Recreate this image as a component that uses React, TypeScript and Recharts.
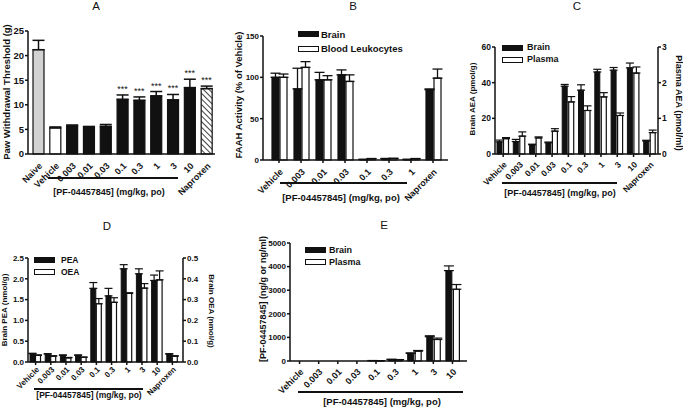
import React from 'react'
import { BarChart, ComposedChart, Bar, Line, XAxis, YAxis, ErrorBar, Cell, LabelList, Legend } from 'recharts'

const FONT = '"Liberation Sans", Arial, Helvetica, sans-serif'
const INK = '#111111'

// ─── Panel A: paw withdrawal threshold ─────────────────────────────────────
const aCats = ['Naive', 'Vehicle', '0.003', '0.01', '0.03', '0.1', '0.3', '1', '3', '10', 'Naproxen']
const aMean = [21.2, 5.3, 5.7, 5.5, 5.6, 11.1, 10.9, 11.8, 11.0, 13.5, 13.3]
const aSem = [1.9, 0.2, 0.2, 0.1, 0.4, 0.9, 0.7, 0.9, 1.1, 1.7, 0.5]
const aSig = ['', '', '', '', '', '***', '***', '***', '***', '***', '***']

// ─── Panel B: FAAH activity ────────────────────────────────────────────────
const bCats = ['Vehicle', '0.003', '0.01', '0.03', '0.1', '0.3', '1', 'Naproxen']
const bBrain = [100, 86, 97, 103, 0.6, 1.5, 0.6, 85]
const bBrainSem = [5, 25, 9, 6, 0.2, 0.4, 0.2, 1]
const bLeuk = [100, 112, 97, 95, 1.5, 1.8, 1.5, 99]
const bLeukSem = [4, 7, 5, 8, 0.3, 0.3, 0.3, 11]

// ─── Panel C: AEA ──────────────────────────────────────────────────────────
const cCats = ['Vehicle', '0.003', '0.01', '0.03', '0.1', '0.3', '1', '3', '10', 'Naproxen']
const cBrain = [6.8, 7.0, 5.2, 6.3, 38, 35.8, 46, 47, 48.3, 7.3]
const cBrainSem = [1.0, 1.2, 0.3, 0.4, 1.0, 3.0, 1.5, 1.5, 2.7, 0.4]
const cPlasma = [0.43, 0.5, 0.45, 0.64, 1.46, 1.22, 1.6, 1.08, 2.27, 0.6]
const cPlasmaSem = [0.03, 0.12, 0.03, 0.07, 0.15, 0.13, 0.12, 0.07, 0.17, 0.07]

// ─── Panel D: PEA / OEA ────────────────────────────────────────────────────
const dCats = cCats
const dPea = [0.2, 0.19, 0.16, 0.16, 1.77, 1.59, 2.24, 2.12, 1.96, 0.19]
const dPeaSem = [0.01, 0.01, 0.01, 0.01, 0.14, 0.18, 0.1, 0.12, 0.13, 0.01]
const dOea = [0.032, 0.028, 0.02, 0.022, 0.28, 0.287, 0.33, 0.355, 0.395, 0.028]
const dOeaSem = [0.002, 0.002, 0.002, 0.002, 0.025, 0.022, 0.003, 0.022, 0.043, 0.002]

// ─── Panel E: compound exposure ────────────────────────────────────────────
const eCats = ['Vehicle', '0.003', '0.01', '0.03', '0.1', '0.3', '1', '3', '10']
const eBrain = [0, 0, 0, 0, 18, 65, 320, 1030, 3830]
const eBrainSem = [0, 0, 0, 0, 3, 8, 25, 40, 200]
const ePlasma = [0, 0, 0, 0, 12, 55, 420, 910, 3040]
const ePlasmaSem = [0, 0, 0, 0, 2, 6, 25, 60, 200]

const up = (s: number) => (s ? [0, s] : null)

const aRows = aCats.map((c, i) => ({
  cat: c, mean: aMean[i], err: up(aSem[i]), sig: aSig[i],
  starAt: aSig[i] ? aMean[i] + aSem[i] : null,
}))
const pairRows = (cats: string[], a: number[], aE: number[], b: number[], bE: number[]) =>
  cats.map((c, i) => ({ cat: c, a: a[i], aErr: up(aE[i]), b: b[i], bErr: up(bE[i]) }))
const bRows = pairRows(bCats, bBrain, bBrainSem, bLeuk, bLeukSem)
const cRows = pairRows(cCats, cBrain, cBrainSem, cPlasma, cPlasmaSem)
const dRows = pairRows(dCats, dPea, dPeaSem, dOea, dOeaSem)
const eRows = pairRows(eCats, eBrain, eBrainSem, ePlasma, ePlasmaSem)

const aFill = (c: string) =>
  c === 'Naive' ? '#d2d2d2' : c === 'Vehicle' ? '#ffffff' : c === 'Naproxen' ? 'url(#hatch)' : INK

const tickStyle = (size: number) => ({ fontSize: size, fontWeight: 'bold' as const, fill: INK, fontFamily: FONT })
const slant = (size: number) => ({ ...tickStyle(size), angle: -45, textAnchor: 'end' as const })
const axisLine = { stroke: INK, strokeWidth: 1.5 }

function StarLabel({ x, y, value }: any) {
  if (!value || typeof y !== 'number') return null
  return (
    <text x={x} y={y - 3} textAnchor="middle" fontSize={9} fontFamily={FONT} fill={INK}>{value}</text>
  )
}

function BoxLegend({ items, size = 9, gap = 13, space = 3 }: any) {
  return (
    <div style={{ fontFamily: FONT, fontWeight: 'bold', fontSize: size, color: INK, lineHeight: 1 }}>
      {items.map((it: any) => (
        <div key={it.label} style={{ display: 'flex', alignItems: 'center', height: gap }}>
          <span style={{ display: 'inline-block', width: 19, height: 4, background: it.fill, border: `1.3px solid ${INK}`, marginRight: space }} />
          {it.label}
        </div>
      ))}
    </div>
  )
}

function Txt({ x, y, rot = 0, size = 9, bold = true, children }: any) {
  return (
    <div style={{
      position: 'absolute', left: x, top: y, transform: `translate(-50%,-50%) rotate(${rot}deg)`,
      whiteSpace: 'nowrap', fontFamily: FONT, fontSize: size, fontWeight: bold ? 'bold' : 'normal', color: INK, lineHeight: 1,
    }}>{children}</div>
  )
}

function Rule({ x1, x2, y }: any) {
  return <div style={{ position: 'absolute', left: x1, top: y - 1, width: x2 - x1, height: 2, background: INK }} />
}

const at = (left: number, top: number) => ({ position: 'absolute' as const, left, top })
const legendAt = (left: number, top: number) => ({ left, top, width: 'auto', height: 'auto' })

export default function App() {
  return (
    <div style={{ position: 'absolute', left: 0, top: 0, width: 683, height: 408, background: '#fff', overflow: 'hidden' }}>
      {/* A */}
      <div style={at(0, 0)}>
        <ComposedChart width={240} height={210} data={aRows} margin={{ top: 31, right: 25, left: 0, bottom: 0 }}>
          <defs>
            <pattern id="hatch" width="4" height="4" patternUnits="userSpaceOnUse" patternTransform="rotate(-45)">
              <rect width="4" height="4" fill="#fff" />
              <line x1="0" y1="0" x2="0" y2="4" stroke={INK} strokeWidth="1.6" />
            </pattern>
          </defs>
          <XAxis dataKey="cat" interval={0} height={56} padding={{ left: 2, right: 0 }} tickLine={false} tickSize={0} tickMargin={8}
            axisLine={axisLine} tick={slant(9)} />
          <YAxis width={28} domain={[0, 25]} ticks={[0, 5, 10, 15, 20, 25]} tickSize={3} tickMargin={1} tickLine={axisLine} axisLine={axisLine} tick={tickStyle(9.5)} />
          <Bar dataKey="mean" barSize={11} stroke={INK} strokeWidth={1.2} isAnimationActive={false}>
            {aRows.map(r => <Cell key={r.cat} fill={aFill(r.cat)} />)}
            <ErrorBar dataKey="err" width={6} stroke={INK} strokeWidth={1.5} direction="y" />
          </Bar>
          <Line dataKey="starAt" stroke="none" dot={false} activeDot={false} legendType="none" isAnimationActive={false}>
            <LabelList dataKey="sig" content={<StarLabel />} />
          </Line>
        </ComposedChart>
      </div>
      <Txt x={96} y={7} size={11.5} bold={false}>A</Txt>
      <Txt x={7} y={92} rot={-90} size={9.5}>Paw Withdrawal Threshold (g)</Txt>
      <Rule x1={48} x2={178} y={177.5} />
      <Txt x={109} y={192}>[PF-04457845] (mg/kg, po)</Txt>

      {/* B */}
      <div style={at(230, 0)}>
        <BarChart width={230} height={210} data={bRows} margin={{ top: 36, right: 12, left: 0, bottom: 0 }} barSize={7} barGap={1}>
          <XAxis dataKey="cat" interval={0} height={50} padding={{ left: 5, right: 4 }} tickSize={3} tickMargin={5} tickLine={axisLine}
            axisLine={axisLine} tick={slant(9)} />
          <YAxis width={33} domain={[0, 150]} ticks={[0, 50, 100, 150]} tickSize={3} tickMargin={1} tickLine={axisLine} axisLine={axisLine} tick={tickStyle(8)} />
          <Legend layout="vertical" align="center" verticalAlign="middle" wrapperStyle={legendAt(68, 27)}
            content={<BoxLegend size={9.5} gap={14.5} space={2} items={[{ label: 'Brain', fill: INK }, { label: 'Blood Leukocytes', fill: '#fff' }]} />} />
          <Bar dataKey="a" name="Brain" fill={INK} stroke={INK} strokeWidth={1.2} isAnimationActive={false}>
            <ErrorBar dataKey="aErr" width={5} stroke={INK} strokeWidth={1.3} direction="y" />
          </Bar>
          <Bar dataKey="b" name="Blood Leukocytes" fill="#fff" stroke={INK} strokeWidth={1.2} isAnimationActive={false}>
            <ErrorBar dataKey="bErr" width={5} stroke={INK} strokeWidth={1.3} direction="y" />
          </Bar>
        </BarChart>
      </div>
      <Txt x={353} y={7} size={11.5} bold={false}>B</Txt>
      <Txt x={239} y={95} rot={-90} size={9.5}>FAAH Activity (% of Vehicle)</Txt>
      <Rule x1={280} x2={407} y={182.5} />
      <Txt x={341} y={198} size={9.5}>[PF-04457845] (mg/kg, po)</Txt>

      {/* C */}
      <div style={at(460, 0)}>
        <BarChart width={223} height={210} data={cRows} margin={{ top: 47, right: 0, left: 0, bottom: 0 }} barSize={5} barGap={1.5}>
          <XAxis dataKey="cat" interval={0} height={56} tickSize={3} tickMargin={4} tickLine={axisLine} axisLine={axisLine}
            tick={slant(8.5)} />
          <YAxis yAxisId="l" width={35} domain={[0, 60]} ticks={[0, 20, 40, 60]} tickSize={3} tickMargin={1} tickLine={axisLine} axisLine={axisLine} tick={tickStyle(8.5)} />
          <YAxis yAxisId="r" orientation="right" width={25} domain={[0, 3]} ticks={[0, 1, 2, 3]} tickSize={3} tickMargin={1} tickLine={axisLine} axisLine={axisLine} tick={tickStyle(8.5)} />
          <Legend layout="vertical" align="center" verticalAlign="middle" wrapperStyle={legendAt(42, 42)}
            content={<BoxLegend size={9} gap={11.8} space={4} items={[{ label: 'Brain', fill: INK }, { label: 'Plasma', fill: '#fff' }]} />} />
          <Bar yAxisId="l" dataKey="a" name="Brain" fill={INK} stroke={INK} strokeWidth={1} isAnimationActive={false}>
            <ErrorBar dataKey="aErr" width={4} stroke={INK} strokeWidth={1.2} direction="y" />
          </Bar>
          <Bar yAxisId="r" dataKey="b" name="Plasma" fill="#fff" stroke={INK} strokeWidth={1.2} isAnimationActive={false}>
            <ErrorBar dataKey="bErr" width={4} stroke={INK} strokeWidth={1.2} direction="y" />
          </Bar>
        </BarChart>
      </div>
      <Txt x={577} y={7} size={11.5} bold={false}>C</Txt>
      <Txt x={473} y={99} rot={-90} size={8}>Brain AEA (pmol/g)</Txt>
      <Txt x={678} y={103} rot={90} size={9}>Plasma AEA (pmol/ml)</Txt>
      <Rule x1={502} x2={617} y={182.5} />
      <Txt x={560} y={193}>[PF-04457845] (mg/kg, po)</Txt>

      {/* D */}
      <div style={at(0, 220)}>
        <BarChart width={230} height={188} data={dRows} margin={{ top: 38, right: 0, left: 0, bottom: 0 }} barSize={5} barGap={0.5}>
          <XAxis dataKey="cat" interval={0} height={46} padding={{ left: 0, right: 3 }} tickSize={3} tickMargin={1} tickLine={axisLine}
            axisLine={axisLine} tick={slant(8)} />
          <YAxis yAxisId="l" width={28} domain={[0, 2.5]} ticks={[0, 0.5, 1, 1.5, 2, 2.5]} tickFormatter={(v: number) => v.toFixed(1)} tickSize={3} tickMargin={1} tickLine={axisLine} axisLine={axisLine} tick={tickStyle(8)} />
          <YAxis yAxisId="r" orientation="right" width={47} domain={[0, 0.5]} ticks={[0, 0.1, 0.2, 0.3, 0.4, 0.5]} tickFormatter={(v: number) => v.toFixed(1)} tickSize={3} tickMargin={1} tickLine={axisLine} axisLine={axisLine} tick={tickStyle(8)} />
          <Legend layout="vertical" align="center" verticalAlign="middle" wrapperStyle={legendAt(34, 34)}
            content={<BoxLegend size={8.5} gap={12} space={6} items={[{ label: 'PEA', fill: INK }, { label: 'OEA', fill: '#fff' }]} />} />
          <Bar yAxisId="l" dataKey="a" name="PEA" fill={INK} stroke={INK} strokeWidth={1} isAnimationActive={false}>
            <ErrorBar dataKey="aErr" width={4} stroke={INK} strokeWidth={1.2} direction="y" />
          </Bar>
          <Bar yAxisId="r" dataKey="b" name="OEA" fill="#fff" stroke={INK} strokeWidth={1.2} isAnimationActive={false}>
            <ErrorBar dataKey="bErr" width={4} stroke={INK} strokeWidth={1.2} direction="y" />
          </Bar>
        </BarChart>
      </div>
      <Txt x={107} y={227} size={11.5} bold={false}>D</Txt>
      <Txt x={5} y={310} rot={-90} size={8}>Brain PEA (nmol/g)</Txt>
      <Txt x={211} y={311} rot={90} size={8}>Brain OEA (nmol/g)</Txt>
      <Rule x1={34} x2={143} y={388.5} />
      <Txt x={89} y={395} size={8.5}>[PF-04457845] (mg/kg, po)</Txt>

      {/* E */}
      <div style={at(230, 220)}>
        <BarChart width={250} height={188} data={eRows} margin={{ top: 23, right: 13, left: 0, bottom: 0 }} barSize={6} barGap={1.5}>
          <XAxis dataKey="cat" interval={0} height={47} padding={{ left: 0, right: 5 }} tickSize={3} tickMargin={4} tickLine={axisLine}
            axisLine={axisLine} tick={slant(9)} />
          <YAxis width={60} domain={[0, 5000]} ticks={[0, 1000, 2000, 3000, 4000, 5000]} tickSize={3} tickMargin={1} tickLine={axisLine} axisLine={axisLine} tick={tickStyle(8)} />
          <Legend layout="vertical" align="center" verticalAlign="middle" wrapperStyle={legendAt(75, 24)}
            content={<BoxLegend size={9} gap={12.3} space={3} items={[{ label: 'Brain', fill: INK }, { label: 'Plasma', fill: '#fff' }]} />} />
          <Bar dataKey="a" name="Brain" fill={INK} stroke={INK} strokeWidth={1} isAnimationActive={false}>
            <ErrorBar dataKey="aErr" width={5} stroke={INK} strokeWidth={1.2} direction="y" />
          </Bar>
          <Bar dataKey="b" name="Plasma" fill="#fff" stroke={INK} strokeWidth={1.2} isAnimationActive={false}>
            <ErrorBar dataKey="bErr" width={5} stroke={INK} strokeWidth={1.2} direction="y" />
          </Bar>
        </BarChart>
      </div>
      <Txt x={384} y={226} size={11.5} bold={false}>E</Txt>
      <Txt x={263} y={299} rot={-90} size={9}>[PF-04457845] (ng/g or ng/ml)</Txt>
      <Rule x1={298} x2={463} y={392} />
      <Txt x={382} y={402} size={9.5}>[PF-04457845] (mg/kg, po)</Txt>
    </div>
  )
}
